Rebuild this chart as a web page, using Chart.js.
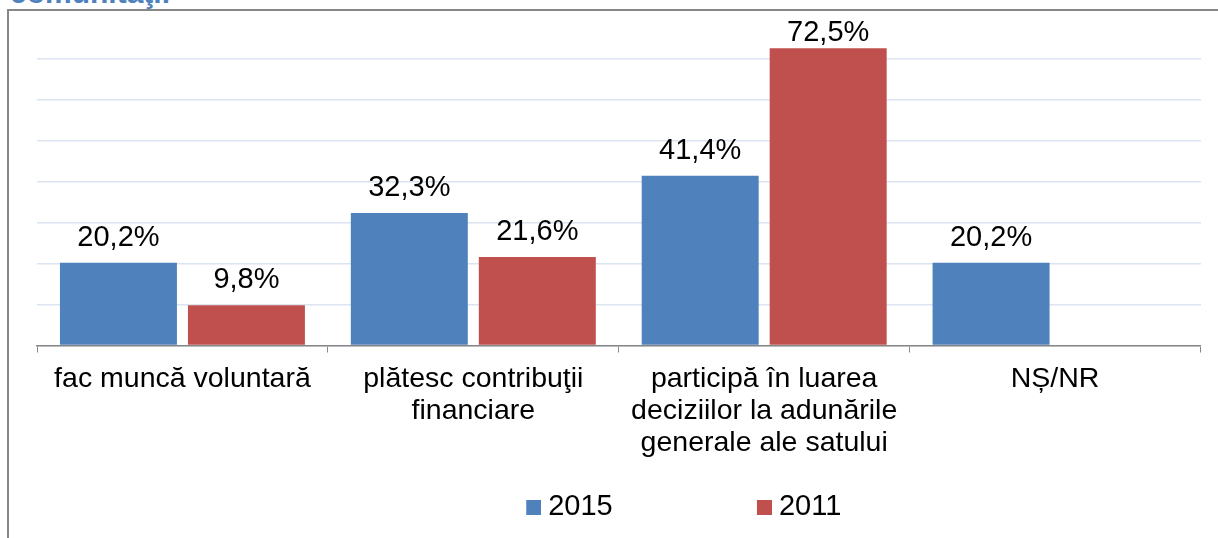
<!DOCTYPE html>
<html>
<head>
<meta charset="utf-8">
<script src="https://cdn.jsdelivr.net/npm/chart.js@4.4.1/dist/chart.umd.min.js"></script>
<style>
  body { margin: 0; width: 1218px; height: 538px; overflow: hidden; background: #fff; position: relative; }
  #heading { position: absolute; left: 10px; top: -22px; font: bold 30px/30px Arial, "Liberation Sans", sans-serif; color: #4f81bd; white-space: nowrap; }
  #frame { position: absolute; left: 7px; top: 9px; border-left: 2px solid #878787; border-top: 2px solid #878787; }
  #graph { display: block; }
</style>
</head>
<body>
<div id="heading">comunitaţii</div>
<div id="frame"><canvas id="graph" width="1314" height="550"></canvas></div>
<script>
// categories and series
var categories = [
    ['fac muncă voluntară'],
    ['plătesc contribuţii', 'financiare'],
    ['participă în luarea', 'deciziilor la adunările', 'generale ale satului'],
    ['NȘ/NR']
];
var values2015 = [20.2, 32.3, 41.4, 20.2];
var values2011 = [9.8, 21.6, 72.5, null];
var seriesNames = ['2015', '2011'];
var seriesColors = ['#4f81bd', '#c0504d'];

var labelSize = 29;
var tickSize = 28.5;
Chart.defaults.font.family = 'Arial, "Liberation Sans", sans-serif';
Chart.defaults.color = '#000';

// legend swatch: square sits in the right half so it is close to its text
const makeSwatch = (color) => {
    let c = document.createElement('canvas');
    c.width = 30;
    c.height = 15;
    let g = c.getContext('2d');
    g.fillStyle = color;
    g.fillRect(15, 0, 15, 15);
    return c;
};

// value labels above the bars, kept inside the plot area
var barLabels = {
    id: 'barLabels',
    afterDatasetsDraw: function (chart) {
        var ctx = chart.ctx;
        ctx.save();
        ctx.font = labelSize + 'px ' + Chart.defaults.font.family;
        ctx.fillStyle = '#000';
        ctx.textAlign = 'center';
        ctx.textBaseline = 'alphabetic';
        chart.data.datasets.forEach(function (ds, i) {
            chart.getDatasetMeta(i).data.forEach(function (bar, j) {
                var v = ds.data[j];
                if (v == null) return;
                var y = Math.max(bar.y - 17, chart.chartArea.top + 23);
                ctx.fillText(v.toFixed(1).replace('.', ',') + '%', bar.x, y);
            });
        });
        ctx.restore();
    }
};

var ctx = document.getElementById('graph').getContext('2d');
var myChart = new Chart(ctx, {
    type: 'bar',
    data: {
        labels: categories,
        datasets: [{
            label: seriesNames[0],
            data: values2015,
            backgroundColor: seriesColors[0],
            categoryPercentage: 0.88,
            barPercentage: 0.914
        }, {
            label: seriesNames[1],
            data: values2011,
            backgroundColor: seriesColors[1],
            categoryPercentage: 0.88,
            barPercentage: 0.914
        }]
    },
    options: {
        responsive: false,
        animation: false,
        devicePixelRatio: 1,
        layout: {
            padding: { left: 28, right: 0, top: 6.5, bottom: 29.5 }
        },
        scales: {
            x: {
                ticks: {
                    color: '#000',
                    font: { size: tickSize, lineHeight: 1.12 },
                    padding: 10.6,
                    maxRotation: 0,
                    autoSkip: false
                },
                grid: {
                    display: true,
                    drawOnChartArea: false,
                    drawTicks: true,
                    tickLength: 7,
                    color: '#868686',
                    offset: true
                },
                border: {
                    color: '#868686',
                    width: 1.5
                },
                afterFit: function (axis) { axis.height = 137; }
            },
            y: {
                position: 'right',
                min: 0,
                max: 80,
                ticks: { display: false, stepSize: 10 },
                grid: {
                    drawTicks: false,
                    lineWidth: 1.5,
                    color: function (c) {
                        return (c.tick && c.tick.value === 80) ? 'rgba(0,0,0,0)' : '#dbe4f0';
                    }
                },
                border: { display: false },
                afterFit: function (axis) { axis.width = 122.5; }
            }
        },
        plugins: {
            tooltip: { enabled: false },
            legend: {
                position: 'bottom',
                labels: {
                    usePointStyle: true,
                    pointStyleWidth: 15,
                    boxHeight: 15,
                    font: { size: labelSize },
                    color: '#000',
                    generateLabels: function (chart) {
                        var items = Chart.defaults.plugins.legend.labels.generateLabels(chart);
                        items.forEach(function (item, i) {
                            item.pointStyle = makeSwatch(seriesColors[i]);
                            if (i === 0) item.text = item.text + '\u00a0'.repeat(15) + '\u2009';
                        });
                        return items;
                    }
                }
            }
        }
    },
    plugins: [barLabels]
});
</script>
</body>
</html>
